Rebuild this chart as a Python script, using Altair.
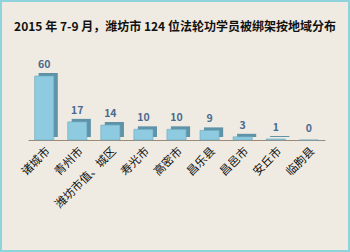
import altair as alt
import pandas as pd

regions = ["诸城市", "青州市", "潍坊市值、城区", "寿光市", "高密市", "昌乐县", "昌邑市", "安丘市", "临朐县"]
counts = [60, 17, 14, 10, 10, 9, 3, 1, 0]
title_text = "2015 年 7-9 月，潍坊市 124 位法轮功学员被绑架按地域分布"

df = pd.DataFrame({"region": regions, "count": counts})
tdf = pd.DataFrame({"t": [title_text]})

FONT = "Noto Sans CJK SC"
W, H = 297, 64
PL, PT, PR, PB = 28, 76, 25, 112

x = alt.X("region:N", sort=regions, scale=alt.Scale(paddingInner=0.42, paddingOuter=0.2),
          axis=alt.Axis(title=None, labelAngle=-45, labelFont=FONT, labelFontSize=11.5,
                        labelFontWeight="normal", labelColor="#111111", labelPadding=5,
                        ticks=False, domainColor="#9a8a78", domainWidth=1.2, labelAlign="right",
                        labelBaseline="top"))
y = alt.Y("count:Q", scale=alt.Scale(domain=[0, 60]), axis=None)

side = alt.Chart(df).mark_bar(color="#5f93a8", xOffset=4, yOffset=-3).encode(x=x, y=y)
front = alt.Chart(df).mark_bar(color="#8ecbe0", stroke="#6fa9bf", strokeWidth=0.6).encode(x=x, y=y)
labels = alt.Chart(df).mark_text(dy=-11, font=FONT, fontSize=10.5, fontWeight="bold",
                                 color="#4a6a90").encode(x=x, y=y, text="count:Q")
title = alt.Chart(tdf).mark_text(font=FONT, fontSize=12, fontWeight="bold", color="#111111",
                                 align="center", baseline="middle").encode(
    x=alt.value(175 - PL), y=alt.value(27 - PT), text="t:N")
border = alt.Chart(tdf).mark_rect(fill=None, stroke="#8fd3dc", strokeWidth=2).encode(
    x=alt.value(-PL + 1), x2=alt.value(W + PR - 1), y=alt.value(-PT + 1), y2=alt.value(H + PB - 1))

chart = alt.layer(side, front, labels, title, border).properties(
    width=W, height=H,
    padding={"left": PL, "top": PT, "right": PR, "bottom": PB},
    autosize=alt.AutoSizeParams(type="none"),
    background="#efebe2",
).configure_view(stroke=None)

chart.save("out.html", embed_options={"renderer": "svg", "actions": False})
